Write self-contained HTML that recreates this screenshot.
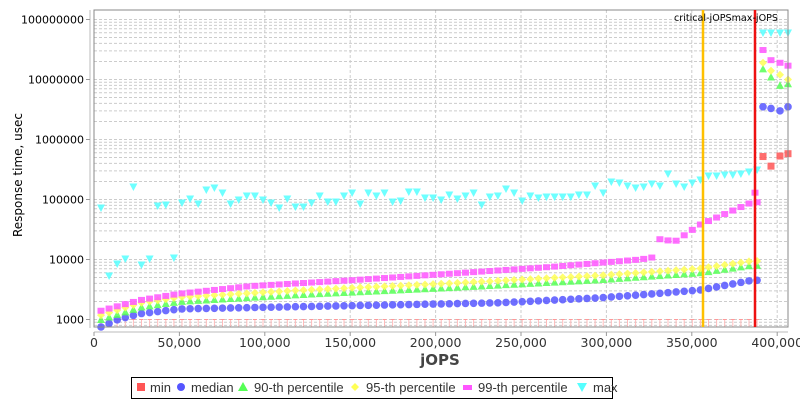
<!DOCTYPE html>
<html><head><meta charset="utf-8"><style>
body{margin:0;background:#fff;}
svg{display:block;font-family:"DejaVu Sans","Liberation Sans",sans-serif;}
</style></head><body>
<svg id="s" width="800" height="400" xmlns="http://www.w3.org/2000/svg">
<rect width="800" height="400" fill="#fff"/>
<g id="grid"></g>
<g id="data"></g>
<rect x="94" y="10" width="694" height="317" fill="none" stroke="#888" stroke-width="1"/>
<line x1="90" y1="10" x2="90" y2="328" stroke="#bbb"/>
<line x1="94" y1="332" x2="788" y2="332" stroke="#bbb"/>
<g id="labels" font-size="12" fill="#333"></g>
<text x="440" y="365" font-size="15" font-weight="bold" text-anchor="middle" fill="#444">jOPS</text>
<text transform="translate(22,175) rotate(-90)" font-size="12" text-anchor="middle" fill="#000">Response time, usec</text>
<line x1="703" y1="10" x2="703" y2="327" stroke="#ffc000" stroke-width="2.5"/>
<line x1="755" y1="10" x2="755" y2="327" stroke="#ee1111" stroke-width="2.5"/>
<text x="674" y="21" font-size="10" fill="#000" textLength="104" lengthAdjust="spacingAndGlyphs">critical-jOPSmax-jOPS</text>
<rect x="131.5" y="377.5" width="481" height="21" fill="#fff" stroke="#000"/>
<g font-size="13" fill="#333" font-family="Liberation Sans, sans-serif">
<rect x="137" y="383" width="8" height="8" fill="#ff5555"/><text x="150" y="392">min</text>
<circle cx="181" cy="387" r="4" fill="#5555ff"/><text x="191" y="392">median</text>
<polygon points="243,382 248,391 238,391" fill="#55ff55"/><text x="254" y="392">90-th percentile</text>
<polygon points="355,383 359,387 355,391 351,387" fill="#ffff55"/><text x="366" y="392">95-th percentile</text>
<rect x="463" y="385" width="9" height="5" fill="#ff55ff"/><text x="478" y="392">99-th percentile</text>
<polygon points="577,383 587,383 582,392" fill="#55ffff"/><text x="593" y="392">max</text>
</g>
</svg>
<script>
const NS="http://www.w3.org/2000/svg";
function el(p,t,a){const e=document.createElementNS(NS,t);for(const k in a)e.setAttribute(k,a[k]);p.appendChild(e);return e;}
const g=document.getElementById('grid'),d=document.getElementById('data'),L=document.getElementById('labels');
const Y=v=>19.5+(8-Math.log10(v))*60;
const X=j=>94+j/50000*85.4;
for(let e=2;e<=8;e++)for(let m=1;m<10;m++){const y=Y(m*Math.pow(10,e));if(y<10||y>327)continue;
 el(g,'line',{x1:94,x2:788,y1:y,y2:y,stroke:'#ccc','stroke-dasharray':'3,2','stroke-width':1});}
for(let j=0;j<=400000;j+=50000){const x=X(j);el(g,'line',{x1:x,x2:x,y1:10,y2:327,stroke:'#ccc','stroke-dasharray':'3,2'});
 el(L,'line',{x1:x,x2:x,y1:332,y2:336,stroke:'#999'});
 const t=el(L,'text',{x:x,y:347,'text-anchor':'middle','font-size':12.5});t.textContent=j.toLocaleString('en-US');}
for(let e=3;e<=8;e++){const y=Y(Math.pow(10,e));el(L,'line',{x1:86,x2:90,y1:y,y2:y,stroke:'#999'});
 const t=el(L,'text',{x:84,y:y+4,'text-anchor':'end','font-size':11,fill:'#000'});t.textContent=String(Math.pow(10,e));}
const xs=[];for(let i=0;i<82;i++)xs.push(101+i*8.1);
function interp(pts,x){for(let i=0;i<pts.length-1;i++){if(x<=pts[i+1][0]){const[a,va]=pts[i],[b,vb]=pts[i+1];const t=(x-a)/(b-a);return Math.exp(Math.log(va)+t*(Math.log(vb)-Math.log(va)));}}return pts[pts.length-1][1];}
const med=[[101,750],[118,1000],[140,1250],[180,1500],[350,1700],[500,1900],[600,2300],[650,2650],[700,3100],[752,4500]];
const p90=[[101,1000],[140,1600],[180,2000],[300,2600],[450,3400],[600,4600],[700,6000],[752,8000]];
const p99=[[101,1400],[140,2100],[180,2700],[250,3600],[350,4500],[450,5800],[550,7500],[640,10000],[655,11000],[658,22000],[675,20000],[700,38000],[752,90000]];
const mx=[208,276,264,259,187,265,259,206,205,258,203,199,204,190,188,193,204,200,196,196,200,203,208,199,207,207,203,196,202,202,196,193,204,193,196,193,202,201,192,192,198,198,200,195,199,196,193,205,197,196,189,193,201,196,198,197,197,197,197,195,195,186,193,182,183,186,188,187,184,186,174,184,187,183,180,176,176,175,175,174,172,170];
xs.forEach(x=>{el(d,'line',{x1:x,x2:x,y1:327,y2:Y(1000),stroke:'#ffbbbb','stroke-width':1});el(d,'line',{x1:x-2,x2:x+2,y1:Y(1000),y2:Y(1000),stroke:'#ff9999'});});
const post=[763,771,780,788];
const op=0.85;
function sq(x,y,c){el(d,'rect',{x:x-3.5,y:y-3.5,width:7,height:7,fill:c,'fill-opacity':op});}
function ci(x,y,c){el(d,'circle',{cx:x,cy:y,r:3.8,fill:c,'fill-opacity':op});}
function tu(x,y,c){el(d,'polygon',{points:`${x},${y-4} ${x+4},${y+3.5} ${x-4},${y+3.5}`,fill:c,'fill-opacity':op});}
function di(x,y,c){el(d,'polygon',{points:`${x},${y-4} ${x+4},${y} ${x},${y+4} ${x-4},${y}`,fill:c,'fill-opacity':op});}
function pl(x,y,c){el(d,'rect',{x:x-3.5,y:y-3,width:7,height:6,fill:c,'fill-opacity':op});}
function td(x,y,c){el(d,'polygon',{points:`${x-4},${y-3.5} ${x+4},${y-3.5} ${x},${y+4}`,fill:c,'fill-opacity':op});}
[5.2e5,3.6e5,5.3e5,5.8e5].forEach((v,i)=>sq(post[i],Y(v),'#ff5555'));
xs.forEach(x=>ci(x,Y(interp(med,x)),'#5555ff'));
[3.5e6,3.3e6,3.0e6,3.5e6].forEach((v,i)=>ci(post[i],Y(v),'#5555ff'));
xs.forEach(x=>tu(x,Y(interp(p90,x)),'#55ff55'));
[1.5e7,1.1e7,8e6,8.5e6].forEach((v,i)=>tu(post[i],Y(v),'#55ff55'));
xs.forEach(x=>di(x,Y(interp(p90,x)*1.18),'#ffff55'));
[1.9e7,1.4e7,1.2e7,1.0e7].forEach((v,i)=>di(post[i],Y(v),'#ffff55'));
xs.forEach(x=>pl(x,Y(interp(p99,x)),'#ff55ff'));
pl(755,Y(1.3e5),'#ff55ff');
[3.1e7,2.1e7,1.9e7,1.7e7].forEach((v,i)=>pl(post[i],Y(v),'#ff55ff'));
xs.forEach((x,i)=>td(x,mx[i],'#55ffff'));
post.forEach(x=>td(x,33,'#55ffff'));
</script>
</body></html>
